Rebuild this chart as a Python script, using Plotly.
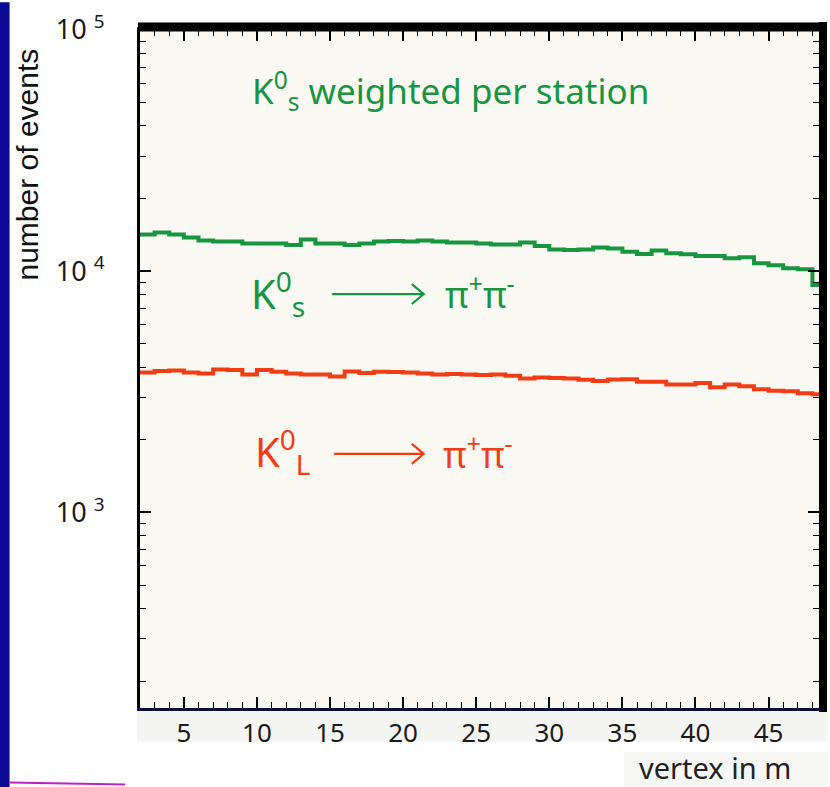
import plotly.graph_objects as go

# ---- data ----
bin_edges = list(range(2, 49)) + [48.45]
ks_weighted = [14200, 14470, 14200, 13800, 13415, 13290, 13290, 13040, 13040, 13040,
               12855, 13540, 13040, 13040, 12855, 13040, 13290, 13350, 13290, 13415,
               13290, 13160, 13160, 13040, 12915, 12915, 13160, 12730, 12315, 12235,
               12315, 12555, 12435, 12053, 11780, 12200, 11860, 11750, 11560, 11560,
               11310, 11420, 10785, 10585, 10290, 10190, 8760]
kl_pipi = [3804, 3858, 3877, 3804, 3768, 3914, 3896, 3733, 3896, 3830,
           3768, 3733, 3733, 3663, 3841, 3786, 3830, 3823, 3804, 3768,
           3733, 3750, 3733, 3715, 3733, 3687, 3594, 3628, 3611, 3594,
           3550, 3510, 3560, 3570, 3483, 3483, 3395, 3395, 3437, 3300,
           3395, 3332, 3239, 3198, 3177, 3118, 3089]
x_ticks = [5, 10, 15, 20, 25, 30, 35, 40, 45]
y_ticks = [1e3, 1e4, 1e5]
y_ticktext = ["10 <sup>3</sup>", "10 <sup>4</sup>", "10 <sup>5</sup>"]
y_minor = [m * 10 ** e for e in (2, 3, 4) for m in range(2, 10) if m * 10 ** e > 150]

W, H = 830, 787
L, R, T, B = 140, 822, 25, 708

def px(x):
    return (x - L) / (R - L)

def py(y):
    return (B - y) / (B - T)

def arrow_path(x0, x1, y, head=12, half=10):
    return (f"M {px(x0)} {py(y)} L {px(x1)} {py(y)} "
            f"M {px(x1 - head)} {py(y - half)} L {px(x1)} {py(y)} L {px(x1 - head)} {py(y + half)}")

GREEN = "#17953f"
RED = "#f43c14"
FONT = "Noto Sans"

fig = go.Figure()
fig.add_trace(go.Scatter(x=bin_edges, y=ks_weighted + [ks_weighted[-1]], mode="lines",
                         line=dict(color=GREEN, width=4, shape="hv"), showlegend=False))
fig.add_trace(go.Scatter(x=bin_edges, y=kl_pipi + [kl_pipi[-1]], mode="lines",
                         line=dict(color=RED, width=4, shape="hv"), showlegend=False))

fig.update_layout(
    width=W, height=H,
    margin=dict(l=L, r=W - R, t=T, b=H - B, pad=0),
    paper_bgcolor="white",
    plot_bgcolor="#f9f8f3",
    font=dict(family=FONT, color="#111111"),
    xaxis=dict(range=[2, 48.45], tickvals=x_ticks, ticks="inside", ticklen=11,
               tickwidth=1.5, tickcolor="black", showgrid=False, zeroline=False,
               showline=True, linecolor="#0d0d3a", linewidth=3, mirror="ticks",
               tickfont=dict(size=26, color="#1a1a1a", family=FONT),
               ticklabelstandoff=0,
               minor=dict(dtick=1, ticks="inside", ticklen=6, tickwidth=1.2,
                          tickcolor="black", showgrid=False)),
    yaxis=dict(type="log", range=[2.1893, 5.0], tickvals=y_ticks, ticktext=y_ticktext,
               ticks="inside", ticklen=11, tickwidth=1.5, tickcolor="black",
               showgrid=False, zeroline=False, showline=True, linecolor="black",
               linewidth=3, mirror="ticks",
               tickfont=dict(size=27, color="#1a1a1a", family=FONT),
               ticklabelstandoff=27,
               minor=dict(tickvals=y_minor, ticks="inside", ticklen=6, tickwidth=1.2,
                          tickcolor="black", showgrid=False)),
)

shapes = [
    # left blue stripe
    dict(type="rect", xref="paper", yref="paper", x0=px(-2), x1=px(9), y0=py(790), y1=py(-3),
         fillcolor="#0b0b98", line=dict(width=0), layer="above"),
    # light band below the axis
    dict(type="rect", xref="paper", yref="paper", x0=px(137), x1=px(830), y0=py(742), y1=py(711),
         fillcolor="#f4f4f2", line=dict(width=0), layer="below"),
    dict(type="rect", xref="paper", yref="paper", x0=px(626), x1=px(830), y0=py(787), y1=py(752),
         fillcolor="#f6f6f4", line=dict(width=0), layer="below"),
    # thick top and right frame
    dict(type="line", xref="paper", yref="paper", x0=px(138), x1=px(830), y0=py(22), y1=py(22),
         line=dict(color="black", width=9), layer="above"),
    dict(type="line", xref="paper", yref="paper", x0=px(826), x1=px(826), y0=py(17), y1=py(712),
         line=dict(color="black", width=8), layer="above"),
    # magenta stroke at the bottom
    dict(type="line", xref="paper", yref="paper", x0=px(9), x1=px(125), y0=py(783), y1=py(785),
         line=dict(color="#c21fc6", width=2), layer="above"),
    # reaction arrows inside the labels
    dict(type="path", xref="paper", yref="paper", path=arrow_path(333, 425, 291),
         line=dict(color=GREEN, width=2.2), layer="above"),
    dict(type="path", xref="paper", yref="paper", path=arrow_path(335, 425, 452),
         line=dict(color=RED, width=2.2), layer="above"),
]
fig.update_layout(shapes=shapes)

ann = [
    dict(text="K<sup>0</sup><sub>s</sub> weighted per station", x=px(250), y=py(86),
         xanchor="left", yanchor="middle", font=dict(size=35, color=GREEN, family=FONT)),
    dict(text="K<sup>0</sup><sub>s</sub>", x=px(249), y=py(290),
         xanchor="left", yanchor="middle", font=dict(size=40, color=GREEN, family=FONT)),
    dict(text="\u03c0<sup>+</sup>\u03c0<sup>-</sup>", x=px(444), y=py(289),
         xanchor="left", yanchor="middle", font=dict(size=36, color=GREEN, family=FONT)),
    dict(text="K<sup>0</sup><sub>L</sub>", x=px(254), y=py(450),
         xanchor="left", yanchor="middle", font=dict(size=40, color=RED, family=FONT)),
    dict(text="\u03c0<sup>+</sup>\u03c0<sup>-</sup>", x=px(442), y=py(451),
         xanchor="left", yanchor="middle", font=dict(size=36, color=RED, family=FONT)),
    dict(text="vertex in m", x=px(796), y=py(768), xanchor="right", yanchor="middle",
         font=dict(size=29, color="#222222", family=FONT)),
    dict(text="number of events", x=px(27), y=py(160), xanchor="center", yanchor="middle",
         textangle=-90, font=dict(size=30, color="#111111", family="Liberation Sans")),
]
for a in ann:
    a.update(xref="paper", yref="paper", showarrow=False)
fig.update_layout(annotations=ann)

fig.write_html("out.html")
